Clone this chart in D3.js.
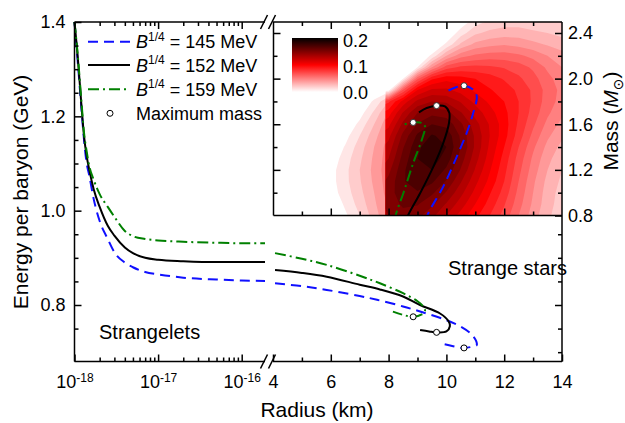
<!DOCTYPE html>
<html>
<head>
<meta charset="utf-8">
<script src="https://cdn.jsdelivr.net/npm/d3@7"></script>
<style>
  body { margin: 0; background: #fff; }
  text { font-family: "Liberation Sans", Arial, sans-serif; }
</style>
</head>
<body>
<svg width="625" height="423"></svg>
<script>
// ---- data ----
const bagLabels = ["145", "152", "159"];

// strangelets (log radius part), radius in km
const letRadius = [1e-18, 1.1e-18, 1.2e-18, 1.3e-18, 1.4e-18, 1.5e-18, 1.7e-18, 2e-18, 2.5e-18, 3e-18, 4e-18, 5e-18, 7e-18, 1e-17, 2e-17, 5e-17, 1e-16, 1.9e-16];
const letE145 = [1.40, 1.31, 1.225, 1.15, 1.10, 1.075, 1.024, 0.978, 0.94, 0.912, 0.89, 0.88, 0.87, 0.865, 0.858, 0.854, 0.852, 0.851];
const letE152 = [1.40, 1.32, 1.232, 1.158, 1.115, 1.087, 1.045, 1.008, 0.968, 0.947, 0.922, 0.91, 0.90, 0.896, 0.893, 0.891, 0.891, 0.891];
const letE159 = [1.40, 1.325, 1.24, 1.165, 1.125, 1.095, 1.065, 1.035, 1.008, 0.987, 0.957, 0.946, 0.94, 0.937, 0.934, 0.932, 0.931, 0.931];

// strange stars, energy per baryon vs radius
const starR145 = [4.07, 5.0, 5.86, 7.0, 7.6, 8.5, 9.2, 10.0, 10.5, 10.85, 11.02, 11.05, 10.85, 10.58, 10.2, 9.78];
const starE145 = [0.846, 0.840, 0.832, 0.819, 0.811, 0.797, 0.784, 0.768, 0.754, 0.739, 0.725, 0.715, 0.711, 0.709, 0.713, 0.719];
const starR152 = [4.07, 5.0, 5.86, 7.0, 7.7, 8.5, 9.09, 9.78, 10.07, 10.12, 10.0, 9.66, 9.4, 9.09];
const starE152 = [0.874, 0.868, 0.860, 0.843, 0.833, 0.818, 0.80, 0.782, 0.766, 0.755, 0.744, 0.742, 0.744, 0.747];
const starR159 = [4.07, 5.0, 5.86, 7.0, 7.7, 8.5, 9.0, 9.2, 9.26, 9.15, 8.85, 8.5, 8.15];
const starE159 = [0.910, 0.898, 0.885, 0.862, 0.846, 0.825, 0.808, 0.797, 0.788, 0.780, 0.775, 0.779, 0.786];

// inset mass-radius curves
const mrR145 = [9.25, 9.43, 9.89, 10.36, 10.70, 10.93, 11.05, 10.93, 10.61, 10.36, 10.01];
const mrM145 = [0.75, 0.848, 1.053, 1.317, 1.523, 1.70, 1.844, 1.903, 1.938, 1.927, 1.888];
const mrR152 = [8.55, 8.68, 9.09, 9.55, 9.89, 10.09, 10.10, 9.95, 9.66, 9.32, 9.05];
const mrM152 = [0.72, 0.804, 0.995, 1.229, 1.435, 1.611, 1.70, 1.756, 1.763, 1.742, 1.704];
const mrR159 = [8.2, 8.28, 8.51, 8.85, 9.15, 9.26, 9.15, 8.85, 8.51];
const mrM159 = [0.75, 0.833, 0.995, 1.259, 1.464, 1.581, 1.611, 1.616, 1.596];

// maximum mass points
const maxR = [10.61, 9.66, 8.85];
const maxM = [1.938, 1.763, 1.616];
const maxE = [0.709, 0.742, 0.775];

// probability density in the inset (main region, R >= 7.9 km)
const heatRadius = [7.5, 8.0, 8.5, 9.0, 9.5, 10.0, 10.5, 11.0, 11.5, 12.0, 12.5, 13.0, 13.5, 14.0];
const heatMass = [0.8, 0.9, 1.0, 1.1, 1.2, 1.3, 1.4, 1.5, 1.6, 1.7, 1.8, 1.9, 2.0, 2.1, 2.2, 2.3, 2.4, 2.5, 2.6];
const heatDensity = [
  [0.142, 0.150, 0.156, 0.153, 0.143, 0.130, 0.116, 0.103, 0.090, 0.076, 0.060, 0.045, 0.032, 0.024],
  [0.144, 0.154, 0.162, 0.161, 0.152, 0.139, 0.125, 0.110, 0.096, 0.081, 0.064, 0.048, 0.034, 0.025],
  [0.144, 0.155, 0.167, 0.169, 0.162, 0.149, 0.133, 0.117, 0.101, 0.086, 0.067, 0.050, 0.035, 0.026],
  [0.142, 0.153, 0.169, 0.176, 0.172, 0.159, 0.141, 0.123, 0.107, 0.090, 0.070, 0.052, 0.037, 0.028],
  [0.136, 0.147, 0.168, 0.180, 0.180, 0.168, 0.149, 0.129, 0.111, 0.093, 0.073, 0.055, 0.040, 0.030],
  [0.130, 0.140, 0.164, 0.180, 0.185, 0.176, 0.155, 0.134, 0.115, 0.096, 0.076, 0.058, 0.043, 0.033],
  [0.124, 0.134, 0.159, 0.178, 0.186, 0.180, 0.160, 0.138, 0.118, 0.100, 0.080, 0.062, 0.047, 0.037],
  [0.118, 0.127, 0.153, 0.172, 0.181, 0.177, 0.158, 0.138, 0.120, 0.104, 0.085, 0.067, 0.052, 0.042],
  [0.108, 0.117, 0.143, 0.161, 0.170, 0.167, 0.152, 0.134, 0.119, 0.105, 0.088, 0.072, 0.057, 0.047],
  [0.096, 0.105, 0.131, 0.150, 0.157, 0.154, 0.141, 0.126, 0.114, 0.103, 0.090, 0.076, 0.062, 0.052],
  [0.078, 0.088, 0.114, 0.133, 0.140, 0.138, 0.129, 0.117, 0.108, 0.100, 0.090, 0.078, 0.065, 0.056],
  [0.000, 0.005, 0.072, 0.110, 0.122, 0.122, 0.116, 0.108, 0.101, 0.095, 0.088, 0.078, 0.066, 0.057],
  [0.000, 0.000, 0.010, 0.068, 0.098, 0.107, 0.104, 0.100, 0.095, 0.089, 0.082, 0.074, 0.063, 0.055],
  [0.000, 0.000, 0.000, 0.010, 0.050, 0.075, 0.082, 0.083, 0.082, 0.079, 0.075, 0.068, 0.058, 0.050],
  [0.000, 0.000, 0.000, 0.000, 0.012, 0.040, 0.056, 0.062, 0.065, 0.065, 0.062, 0.057, 0.050, 0.044],
  [0.000, 0.000, 0.000, 0.000, 0.000, 0.012, 0.032, 0.043, 0.047, 0.049, 0.047, 0.043, 0.039, 0.035],
  [0.000, 0.000, 0.000, 0.000, 0.000, 0.000, 0.015, 0.028, 0.033, 0.035, 0.035, 0.032, 0.030, 0.027],
  [0.000, 0.000, 0.000, 0.000, 0.000, 0.000, 0.003, 0.015, 0.022, 0.025, 0.025, 0.024, 0.022, 0.020],
  [0.000, 0.000, 0.000, 0.000, 0.000, 0.000, 0.000, 0.010, 0.015, 0.018, 0.018, 0.016, 0.014, 0.012]
];
// pale shoulder left of the cut (R < 7.9 km)
const shoulderRadius = [5.5, 6.0, 6.5, 7.0, 7.5, 8.0];
const shoulderMass = [0.8, 0.9, 1.0, 1.1, 1.2, 1.3, 1.4, 1.5, 1.6, 1.7, 1.8, 1.9, 2.0];
const shoulderDensity = [
  [0, 0.000, 0.008, 0.020, 0.035, 0.050],
  [0, 0.000, 0.012, 0.024, 0.038, 0.052],
  [0, 0.005, 0.015, 0.027, 0.040, 0.055],
  [0, 0.006, 0.017, 0.029, 0.042, 0.056],
  [0, 0.006, 0.017, 0.030, 0.043, 0.057],
  [0, 0.003, 0.015, 0.028, 0.042, 0.056],
  [0, 0.000, 0.011, 0.025, 0.040, 0.055],
  [0, 0.000, 0.006, 0.020, 0.036, 0.052],
  [0, 0.000, 0.000, 0.013, 0.030, 0.048],
  [0, 0.000, 0.000, 0.005, 0.022, 0.042],
  [0, 0.000, 0.000, 0.000, 0.012, 0.030],
  [0, 0.000, 0.000, 0.000, 0.000, 0.005],
  [0, 0.000, 0.000, 0.000, 0.000, 0.000]
];
const cutRadius = 7.9;

const eTicks = [0.7, 0.75, 0.8, 0.85, 0.9, 0.95, 1.0, 1.05, 1.1, 1.15, 1.2, 1.25, 1.3, 1.35, 1.4];
const rTicks = [4, 5, 6, 7, 8, 9, 10, 11, 12, 13, 14];
const mTicks = [1.0, 1.2, 1.4, 1.6, 1.8, 2.0, 2.2, 2.4];
const heatTicks = [0.0, 0.1, 0.2];

// ---- layout ----
const plotL = 74.5, plotR = 562, plotT = 22, plotB = 361.5, insetL = 273.5, insetB = 215.5;
const breakL = 265, breakR = 271;
const svg = d3.select("svg");

const xLog = d3.scaleLog().domain([1e-18, 1e-16]).range([74.5, 241.7]);
const xLin = d3.scaleLinear().domain([4, 14]).range([273, 562]);
const yE = d3.scaleLinear().domain([0.8, 1.4]).range([305, 22]);
const yM = d3.scaleLinear().domain([0.8, 2.4]).range([215.5, 33]);
const heat = d3.scaleLinear().domain([0, 0.1, 0.2]).range(["#ffffff", "#ff0000", "#000000"]).clamp(true);
const levels = d3.range(0.01, 0.205, 0.01);

const colors = ["#1010ff", "#000000", "#008000"];
const dashes = ["10,6", null, "11,4,2,4"];

const defs = svg.append("defs");
defs.append("clipPath").attr("id", "clipInset").append("rect")
  .attr("x", insetL).attr("y", plotT).attr("width", plotR - insetL).attr("height", insetB - plotT);
defs.append("clipPath").attr("id", "clipMain").append("rect")
  .attr("x", xLin(cutRadius)).attr("y", plotT).attr("width", plotR - xLin(cutRadius)).attr("height", insetB - plotT);
defs.append("clipPath").attr("id", "clipShoulder").append("rect")
  .attr("x", insetL).attr("y", plotT).attr("width", xLin(cutRadius) - insetL).attr("height", insetB - plotT);

// ---- inset density ----
const inset = svg.append("g").attr("clip-path", "url(#clipInset)");

function drawDensity(values, cols, rows, clipId) {
  const dr = cols[1] - cols[0], dm = rows[1] - rows[0];
  const contours = d3.contours().size([cols.length, rows.length]).thresholds(levels)(values.flat());
  const proj = d3.geoTransform({
    point: function(x, y) {
      this.stream.point(xLin(cols[0] + (x - 0.5) * dr), yM(rows[0] + (y - 0.5) * dm));
    }
  });
  inset.append("g").attr("clip-path", `url(#${clipId})`)
    .selectAll("path").data(contours).join("path")
    .attr("d", d3.geoPath(proj))
    .attr("fill", d => heat(d.value));
}
drawDensity(shoulderDensity, shoulderRadius, shoulderMass, "clipShoulder");
drawDensity(heatDensity, heatRadius, heatMass, "clipMain");

// inset curves
const mrLine = d3.line().x(d => xLin(d[0])).y(d => yM(d[1])).curve(d3.curveCatmullRom.alpha(0.5));
[[mrR145, mrM145], [mrR152, mrM152], [mrR159, mrM159]].forEach((s, i) => {
  inset.append("path").attr("d", mrLine(d3.zip(s[0], s[1])))
    .attr("fill", "none").attr("stroke", colors[i]).attr("stroke-width", 2)
    .attr("stroke-dasharray", dashes[i]);
});
inset.selectAll("circle.mm").data(d3.range(3)).join("circle")
  .attr("cx", i => xLin(maxR[i])).attr("cy", i => yM(maxM[i])).attr("r", 3)
  .attr("fill", "#fff").attr("stroke", "#333").attr("stroke-width", 1);

// ---- main curves ----
const letLine = d3.line().x(d => xLog(d[0])).y(d => yE(d[1])).curve(d3.curveMonotoneX);
[letE145, letE152, letE159].forEach((e, i) => {
  svg.append("path").attr("d", letLine(d3.zip(letRadius, e)))
    .attr("fill", "none").attr("stroke", colors[i]).attr("stroke-width", 2)
    .attr("stroke-dasharray", dashes[i]);
});
const starLine = d3.line().x(d => xLin(d[0])).y(d => yE(d[1])).curve(d3.curveCatmullRom.alpha(0.5));
[[starR145, starE145], [starR152, starE152], [starR159, starE159]].forEach((s, i) => {
  svg.append("path").attr("d", starLine(d3.zip(s[0], s[1])))
    .attr("fill", "none").attr("stroke", colors[i]).attr("stroke-width", 2)
    .attr("stroke-dasharray", dashes[i]);
});
svg.selectAll("circle.me").data(d3.range(3)).join("circle")
  .attr("cx", i => xLin(maxR[i])).attr("cy", i => yE(maxE[i])).attr("r", 3)
  .attr("fill", "#fff").attr("stroke", "#000").attr("stroke-width", 1);

// ---- axes ----
const isDecade = v => Math.abs(Math.log10(v) - Math.round(Math.log10(v))) < 1e-6;
const logTicks = [];
for (let p = -18; p <= -16; p++) for (let k = 1; k <= 9; k++) if (k * 10 ** p < 1.9e-16) logTicks.push(k * 10 ** p);

function styleAxis(g, isMajor, big, small, sign, horizontal) {
  g.select(".domain").remove();
  g.selectAll(".tick line").attr("stroke-width", 1.5)
    .attr(horizontal ? "y2" : "x2", d => (isMajor(d) ? big : small) * sign);
  g.attr("font-size", 18).attr("font-family", "Liberation Sans, Arial, sans-serif");
}

const gLogB = svg.append("g").attr("transform", `translate(0,${plotB})`)
  .call(d3.axisBottom(xLog).tickValues(logTicks).tickSizeInner(-7).tickPadding(14).tickFormat(""));
styleAxis(gLogB, isDecade, 7, 4, -1, true);
gLogB.selectAll(".tick text").filter(d => isDecade(d)).each(function(d) {
  const t = d3.select(this).text("10");
  t.append("tspan").attr("dy", "-0.55em").attr("font-size", 12).text(Math.round(Math.log10(d)));
});
const gLogT = svg.append("g").attr("transform", `translate(0,${plotT})`)
  .call(d3.axisTop(xLog).tickValues(logTicks).tickSizeInner(-7).tickFormat(""));
styleAxis(gLogT, isDecade, 7, 4, 1, true);

const evenR = d => d % 2 === 0;
const gLinB = svg.append("g").attr("transform", `translate(0,${plotB})`)
  .call(d3.axisBottom(xLin).tickValues(rTicks).tickSizeInner(-7).tickPadding(14).tickFormat(d => evenR(d) ? d : ""));
styleAxis(gLinB, evenR, 7, 4, -1, true);
const gLinT = svg.append("g").attr("transform", `translate(0,${plotT})`)
  .call(d3.axisTop(xLin).tickValues(rTicks.slice(1, -1)).tickSizeInner(-7).tickFormat(""));
styleAxis(gLinT, evenR, 7, 4, 1, true);

const majorE = d => Math.abs(d * 5 - Math.round(d * 5)) < 1e-6;
const gEL = svg.append("g").attr("transform", `translate(${plotL},0)`)
  .call(d3.axisLeft(yE).tickValues(eTicks.slice(1)).tickSizeInner(-7).tickPadding(9).tickFormat(d => majorE(d) ? d.toFixed(1) : ""));
styleAxis(gEL, majorE, 7, 4, 1, false);
const gER = svg.append("g").attr("transform", `translate(${plotR},0)`)
  .call(d3.axisRight(yE).tickValues(eTicks.filter(d => d < 0.98)).tickSizeInner(-7).tickFormat(""));
styleAxis(gER, majorE, 7, 4, -1, false);

// inset axes
const gIB = svg.append("g").attr("transform", `translate(0,${insetB})`)
  .call(d3.axisBottom(xLin).tickValues(rTicks.slice(1, -1)).tickSizeInner(-7).tickFormat(""));
styleAxis(gIB, evenR, 7, 4, -1, true);
const majorM = d => Math.abs(d * 2.5 - Math.round(d * 2.5)) < 1e-6;
const gIL = svg.append("g").attr("transform", `translate(${insetL},0)`)
  .call(d3.axisLeft(yM).tickValues(mTicks).tickSizeInner(-7).tickFormat(""));
styleAxis(gIL, majorM, 7, 4, 1, false);
const gIR = svg.append("g").attr("transform", `translate(${plotR},0)`)
  .call(d3.axisRight(yM).tickValues([0.8].concat(mTicks)).tickSizeInner(-7).tickPadding(6).tickFormat(d => majorM(d) ? d.toFixed(1) : ""));
styleAxis(gIR, majorM, 7, 4, -1, false);

// frame with axis break
const frame = svg.append("g").attr("stroke", "#000").attr("stroke-width", 1.5).attr("fill", "none");
[
  [[plotL, plotT], [plotL, plotB]],
  [[plotR, plotT], [plotR, plotB]],
  [[plotL, plotB], [breakL, plotB]], [[breakR + 2, plotB], [plotR, plotB]],
  [[plotL, plotT], [breakL, plotT]], [[breakR + 2, plotT], [plotR, plotT]],
  [[insetL, plotT], [insetL, insetB]], [[insetL, insetB], [plotR, insetB]]
].forEach(s => frame.append("path").attr("d", d3.line()(s)));
[plotB, plotT].forEach(y => {
  [breakL - 1, breakR + 1].forEach(x => {
    frame.append("path").attr("d", d3.line()([[x - 3.5, y + 7], [x + 3.5, y - 7]]));
  });
});

// ---- colour bar ----
const grad = defs.append("linearGradient").attr("id", "heatGrad").attr("x1", 0).attr("x2", 0).attr("y1", 1).attr("y2", 0);
d3.range(0, 1.001, 0.05).forEach(t => grad.append("stop").attr("offset", t).attr("stop-color", heat(t * 0.2)));
const barY = d3.scaleLinear().domain([0, 0.2]).range([92, 40]);
svg.append("rect").attr("x", 292).attr("y", 38).attr("width", 46).attr("height", 54).attr("fill", "url(#heatGrad)");
svg.selectAll("text.bar").data(heatTicks).join("text").attr("class", "bar")
  .attr("x", 343).attr("y", d => barY(d) + 6.5).attr("font-size", 18).text(d => d.toFixed(1));

// ---- legend ----
const legY = [41.7, 65, 89.3];
bagLabels.forEach((b, i) => {
  svg.append("line").attr("x1", 88).attr("x2", 130).attr("y1", legY[i]).attr("y2", legY[i])
    .attr("stroke", colors[i]).attr("stroke-width", 2).attr("stroke-dasharray", dashes[i]);
  const t = svg.append("text").attr("x", 136).attr("y", legY[i] + 6.5).attr("font-size", 18);
  t.append("tspan").attr("font-style", "italic").text("B");
  t.append("tspan").attr("y", legY[i] - 1).attr("font-size", 12).text("1/4");
  t.append("tspan").attr("y", legY[i] + 6.5).text(" = " + b + " MeV");
});
svg.append("circle").attr("cx", 110).attr("cy", 113.3).attr("r", 3).attr("fill", "#fff").attr("stroke", "#000");
svg.append("text").attr("x", 136).attr("y", 119.8).attr("font-size", 18).text("Maximum mass");

// ---- annotations & titles ----
svg.append("text").attr("x", 99).attr("y", 338.5).attr("font-size", 20).text("Strangelets");
svg.append("text").attr("x", 448).attr("y", 275).attr("font-size", 20).text("Strange stars");
svg.append("text").attr("x", 317).attr("y", 416.5).attr("font-size", 21).attr("text-anchor", "middle").text("Radius (km)");
svg.append("text").attr("transform", "translate(28,192) rotate(-90)").attr("font-size", 21)
  .attr("text-anchor", "middle").text("Energy per baryon (GeV)");
const mt = svg.append("text").attr("transform", "translate(618,121) rotate(-90)").attr("font-size", 21).attr("text-anchor", "middle");
mt.append("tspan").text("Mass (");
mt.append("tspan").attr("font-style", "italic").text("M");
mt.append("tspan").attr("dy", 5).attr("font-size", 14).attr("font-family", "DejaVu Sans").text("\u2299");
mt.append("tspan").attr("dy", -5).text(")");
</script>
</body>
</html>
